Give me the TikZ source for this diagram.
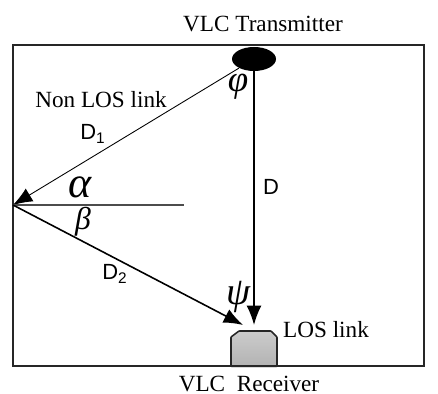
\documentclass[tikz,border=0pt]{standalone}
\usepackage{fontspec}
\setmainfont{Liberation Serif}
\setsansfont{Liberation Sans}
\usetikzlibrary{arrows.meta,shapes.geometric,shadows}
\tikzset{
  link/.style={line width=0.9pt, -{Latex[length=11pt,width=8.5pt]}},
  serifl/.style={font=\fontsize{13.2}{15}\selectfont},
  sansl/.style={font=\sffamily\fontsize{12.5}{14}\selectfont},
  angl/.style={inner sep=0pt, font=\itshape\fontsize{21}{23}\selectfont}
}
\begin{document}
\begin{tikzpicture}[x=0.02cm,y=-0.02cm]
\useasboundingbox (0,0) rectangle (438,394);
\draw[line width=0.9pt, black!85] (13,45) rectangle (424,366);

\node[ellipse, fill=black, inner sep=0pt, minimum width=0.88cm, minimum height=0.48cm] (tx) at (254,59) {};
\coordinate (refl) at (13,205);
\coordinate (refr) at (184,205);
\coordinate (rxtip) at (243,325);
\coordinate (lostip) at (254,325);

% receiver
\draw[line width=0.9pt, black!85, rounded corners=0.4pt, top color=gray!40, bottom color=gray!60, drop shadow={shadow xshift=0pt,shadow yshift=-1pt,opacity=0.3}]
  (231,366) -- (231,337) -- (239,331) -- (271,331) -- (277,337) -- (277,366) -- cycle;

\draw[link, line width=0.5pt] (tx) -- (refl);
\draw[line width=0.7pt, black!70] (refl) -- (refr);
\draw[link] (refl) -- (rxtip);
\draw[link] (tx) -- (lostip);

\node[serifl] (txlabel) at (263,24) {VLC Transmitter};
\node[serifl] (nonlos) at (101,100) {Non LOS link};
\node[serifl] (loslabel) at (326,330) {LOS link};
\node[serifl, inner sep=0pt] (rxlabel) at (249,384) {VLC\ \ Receiver};

\node[sansl] (done) at (93,134) {D\textsubscript{1}};
\node[sansl] (dtwo) at (115,274) {D\textsubscript{2}};
\node[sansl] (dlos) at (271,187) {D};

\node[angl, font=\itshape\fontsize{25}{27}\selectfont] (alpha) at (80,187) {α};
\node[angl, font=\itshape\fontsize{18}{20}\selectfont] (beta) at (83,222) {β};
\node[angl] (phi) at (238,87) {φ};
\node[angl, font=\itshape\fontsize{22}{24}\selectfont] (psi) at (238,297) {ψ};
\end{tikzpicture}
\end{document}
